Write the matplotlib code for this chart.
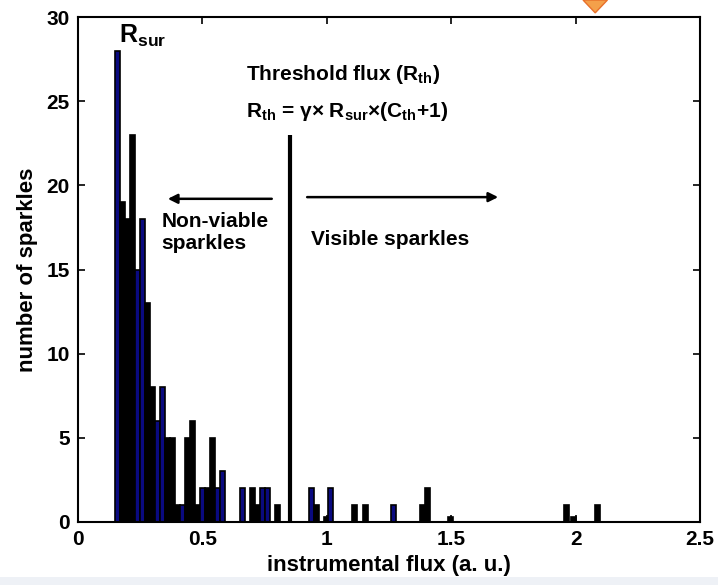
import matplotlib
matplotlib.use("Agg")
import matplotlib.pyplot as plt
import matplotlib.patches as mpatches

plt.rcParams['font.family'] = ['Liberation Sans Narrow', 'Liberation Sans', 'DejaVu Sans']
plt.rcParams['font.weight'] = 'bold'
plt.rcParams['axes.labelweight'] = 'bold'
plt.rcParams['mathtext.fontset'] = 'custom'
plt.rcParams['mathtext.rm'] = 'Liberation Sans:bold'
plt.rcParams['mathtext.it'] = 'Liberation Sans:bold'
plt.rcParams['mathtext.default'] = 'rm'

# Histogram of sparkle fluxes (bin width 0.02 a.u.)
flux = [0.16, 0.18, 0.20, 0.22, 0.24, 0.26, 0.28, 0.30, 0.32, 0.34,
        0.36, 0.38, 0.40, 0.42, 0.44, 0.46, 0.48, 0.50, 0.52, 0.54,
        0.56, 0.58, 0.66, 0.70, 0.72, 0.74, 0.76, 0.80,
        0.938, 0.959, 0.999, 1.015, 1.111, 1.156, 1.270, 1.385, 1.405,
        1.499, 1.965, 1.992, 2.088]
counts = [28, 19, 18, 23, 15, 18, 13, 8, 6, 8,
          5, 5, 1, 1, 5, 6, 1, 2, 2, 5,
          2, 3, 2, 2, 1, 2, 2, 1,
          2, 1, 0.3, 2, 1, 1, 1, 1, 2,
          0.3, 1, 0.3, 1]
group = ['b', 'k', 'k', 'k', 'b', 'b', 'k', 'k', 'b', 'b',
         'k', 'k', 'k', 'b', 'k', 'k', 'k', 'b', 'k', 'k',
         'b', 'b', 'b', 'k', 'k', 'b', 'b', 'k',
         'b', 'k', 'k', 'b', 'k', 'k', 'b', 'k', 'k',
         'k', 'k', 'k', 'k']

r_threshold = 0.852
threshold_height = 23

xticks = [0, 0.5, 1, 1.5, 2, 2.5]
xticklabels = ['0', '0.5', '1', '1.5', '2', '2.5']
yticks = [0, 5, 10, 15, 20, 25, 30]

fig = plt.figure(figsize=(7.18, 5.85), dpi=100)
ax = fig.add_axes([0.1086, 0.1077, 0.8663, 0.8632])

face = {'b': '#0a0a80', 'k': 'black'}
ax.bar(flux, counts, width=0.02, color=[face[g] for g in group],
       edgecolor='black', linewidth=1.2, zorder=2)

# threshold flux marker
ax.vlines(r_threshold, 0, threshold_height, color='black', linewidth=3, zorder=3)

ax.annotate('', xy=(0.35, 19.2), xytext=(0.79, 19.2),
            arrowprops=dict(arrowstyle='-|>', color='black', lw=1.8,
                            mutation_scale=14))
ax.annotate('', xy=(1.70, 19.3), xytext=(0.91, 19.3),
            arrowprops=dict(arrowstyle='-|>', color='black', lw=1.8,
                            mutation_scale=14))

ax.text(0.165, 28.1, r'R$_{sur}$', fontsize=18, ha='left', va='bottom')
ax.text(0.675, 26.6, r'Threshold flux (R$_{th}$)', fontsize=15, ha='left', va='center')
ax.text(0.675, 24.4, r'R$_{th}$ = γ× R$_{sur}$×(C$_{th}$+1)', fontsize=15,
        ha='left', va='center')
ax.text(0.335, 18.4, 'Non-viable\nsparkles', fontsize=15, ha='left', va='top',
        linespacing=1.15)
ax.text(0.935, 16.8, 'Visible sparkles', fontsize=15, ha='left', va='center')

ax.set_xlim(0, 2.5)
ax.set_ylim(0, 30)
ax.set_xticks(xticks)
ax.set_xticklabels(xticklabels)
ax.set_yticks(yticks)
ax.tick_params(direction='in', length=5, width=1.2, top=True, right=True,
               labelsize=15, pad=6)
for s in ax.spines.values():
    s.set_linewidth(1.5)

ax.set_xlabel('instrumental flux (a. u.)', fontsize=16, labelpad=4)
ax.set_ylabel('number of sparkles', fontsize=16, labelpad=6)

# strip along the bottom edge and the small orange marker at the top
fig.patches.append(mpatches.Rectangle((0, 0), 1, 0.013, transform=fig.transFigure,
                                      facecolor='#eef1f6', edgecolor='none'))
fig.patches.append(mpatches.Polygon([(0.812, 1.0), (0.829, 0.978), (0.846, 1.0)],
                                    closed=True, transform=fig.transFigure,
                                    facecolor='#f4a04a', edgecolor='#e8702a', lw=1))

fig.savefig('out.png', dpi=100)
